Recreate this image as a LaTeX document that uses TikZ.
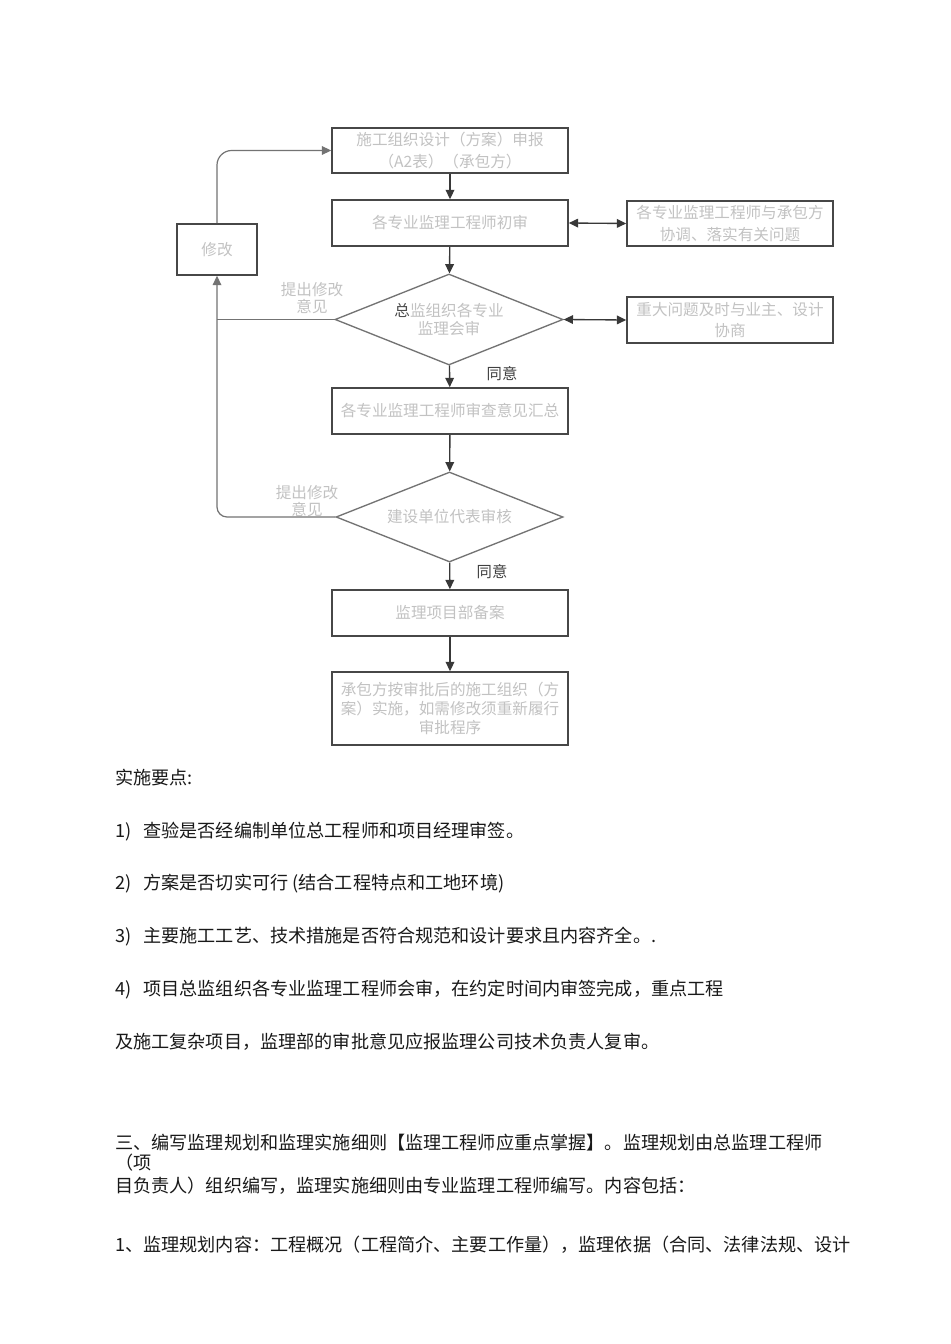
\documentclass[tikz,border=0pt]{standalone}
\usepackage{fontspec}
\setmainfont{Noto Sans CJK SC}
\usetikzlibrary{shapes.geometric,arrows.meta}
\newcommand\ftxt{\fontsize{11.7pt}{14.5pt}\selectfont}
\newcommand\fbody{\fontsize{13.6pt}{16pt}\selectfont}
\begin{document}
\begin{tikzpicture}[x=0.75pt,y=-0.75pt,
  tip/.style={-{Triangle[length=7pt,width=6.5pt]}},
  dtip/.style={{Triangle[length=7pt,width=6.5pt]}-{Triangle[length=7pt,width=6.5pt]}},
  box/.style={draw=black!72, line width=1.2pt, minimum width=236*0.75pt, minimum height=46*0.75pt,
    inner sep=0pt, align=center, text=black!24, font=\ftxt},
  sidebox/.style={box, minimum width=206*0.75pt, minimum height=45*0.75pt, font=\fontsize{11.7pt}{16pt}\selectfont},
  dia/.style={diamond, draw=black!55, line width=1pt, minimum width=228*0.75pt, minimum height=91*0.75pt,
    inner sep=0pt, aspect=2.5, align=center, text=black!24, font=\fontsize{11.7pt}{13.5pt}\selectfont},
  flow/.style={draw=black!78, line width=1pt, tip},
  side/.style={draw=black!78, line width=1pt, dtip},
  loopline/.style={draw=black!55, line width=0.9pt},
  lbl/.style={inner sep=0pt, align=center, text=black!24, font=\fontsize{11.7pt}{13pt}\selectfont},
  agree/.style={inner sep=0pt, text=black!75, font=\fontsize{11.5pt}{13pt}\selectfont},
  body/.style={anchor=west, inner sep=0pt, text=black!90, font=\fbody}
]
\useasboundingbox[fill=white] (0,0) rectangle (950,1344);

% flowchart nodes
\node[box, minimum height=45*0.75pt, font=\fontsize{11.7pt}{17pt}\selectfont] (b1) at (450,150.5) {施工组织设计（方案）申报\\（A2表）（承包方）};
\node[box] (b2) at (450,223) {各专业监理工程师初审};
\node[sidebox] (r1) at (730,223.5) {各专业监理工程师与承包方\\协调、落实有关问题};
\node[box, minimum width=80*0.75pt, minimum height=51*0.75pt] (fix) at (217,249.5) {修改};
\node[dia] (d1) at (449,319.5) {\textcolor{black!70}{总}监组织各专业\\监理会审};
\node[sidebox, minimum height=46*0.75pt] (r2) at (730,320) {重大问题及时与业主、设计\\协商};
\node[box] (b3) at (450,411) {各专业监理工程师审查意见汇总};
\node[dia, minimum width=227*0.75pt, minimum height=90*0.75pt] (d2) at (449.5,517) {建设单位代表审核};
\node[box] (b4) at (450,613) {监理项目部备案};
\node[box, minimum height=73*0.75pt, font=\fontsize{11.7pt}{14.3pt}\selectfont] (b5) at (450,708.5) {承包方按审批后的施工组织（方\\案）实施，如需修改须重新履行\\审批程序};

% labels
\node[lbl] (l1) at (312,298) {提出修改\\意见};
\node[lbl] (l2) at (307,501) {提出修改\\意见};
\node[agree] (a1) at (502,374) {同意};
\node[agree] (a2) at (492,572) {同意};

% connectors
\draw[flow] (b1) -- (b2);
\draw[flow] (b2) -- (d1);
\draw[flow] (d1) -- (b3);
\draw[flow] (b3) -- (d2);
\draw[flow] (d2) -- (b4);
\draw[flow] (b4) -- (b5);
\draw[side] (b2.east) -- (r1.west);
\draw[side] (d1.east) -- (r2.west);
\draw[loopline] (d1.west) -- (d1.west -| fix.south);
\draw[loopline, tip, rounded corners=7.5pt] (d2.west) -| (fix.south);
\draw[loopline, tip, rounded corners=11pt] (fix.north) |- (b1.west);

% body text
\node[body] (t0) at (115,778) {实施要点:};
\node[body] (t1) at (115,832) {1)\hspace{9pt}查验是否经编制单位总工程师和项目经理审签。};
\node[body] (t2) at (115,884) {2)\hspace{9pt}方案是否切实可行 (结合工程特点和工地环境)};
\node[body] (t3) at (115,937) {3)\hspace{9pt}主要施工工艺、技术措施是否符合规范和设计要求且内容齐全。.};
\node[body] (t4) at (115,990) {4)\hspace{9pt}项目总监组织各专业监理工程师会审，在约定时间内审签完成，重点工程};
\node[body] (t5) at (115,1042) {及施工复杂项目，监理部的审批意见应报监理公司技术负责人复审。};
\node[body] (t6) at (115,1143) {三、编写监理规划和监理实施细则【监理工程师应重点掌握】。监理规划由总监理工程师};
\node[body] (t7) at (115,1163) {（项};
\node[body] (t8) at (115,1186) {目负责人）组织编写，监理实施细则由专业监理工程师编写。内容包括：};
\node[body] (t9) at (115,1245) {1、监理规划内容：工程概况（工程简介、主要工作量），监理依据（合同、法律法规、设计};
\end{tikzpicture}
\end{document}
